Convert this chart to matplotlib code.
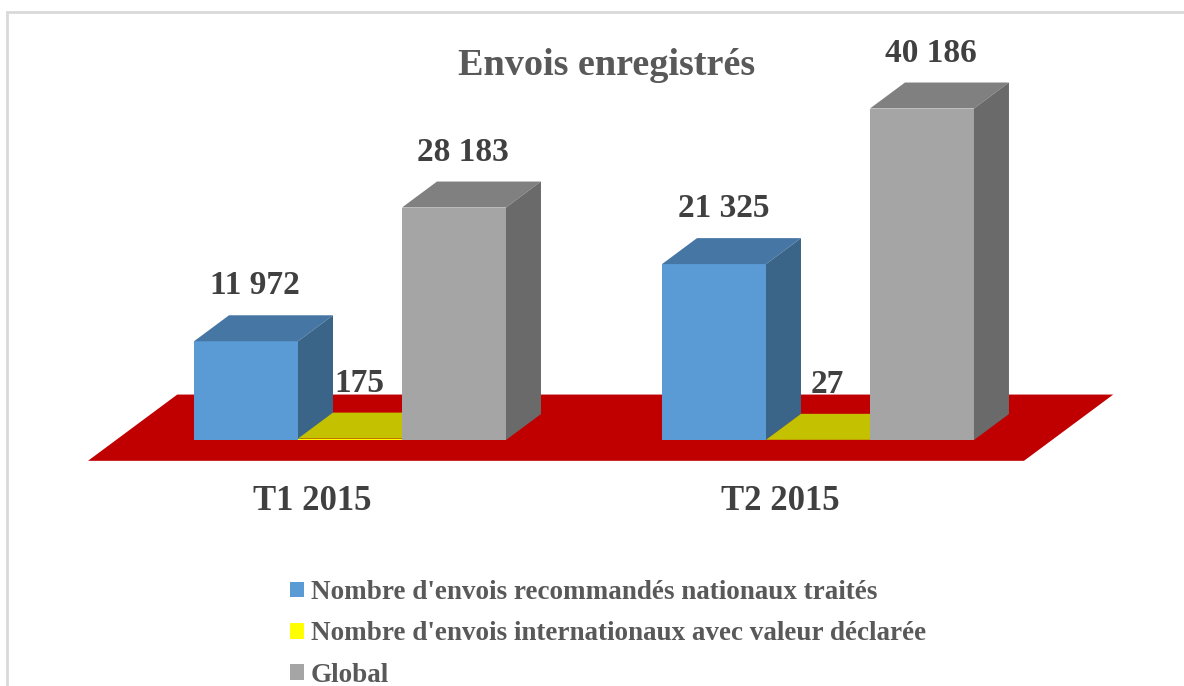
import matplotlib.pyplot as plt
from matplotlib.patches import Polygon, Rectangle
import numpy as np

plt.rcParams['font.family'] = ['Liberation Serif', 'DejaVu Serif']

#-----------------------------------------------------------------------------
# data
categories = ["T1 2015", "T2 2015"]
series = ["Nombre d'envois recommandés nationaux traités",
          "Nombre d'envois internationaux avec valeur déclarée",
          "Global"]
nationaux = [11972, 21325]
internationaux = [175, 27]
global_ = [28183, 40186]
value_labels = [["11 972", "21 325"], ["175", "27"], ["28 183", "40 186"]]

# front, top, side colours per series
colors = [("#5b9bd5", "#4677a4", "#3b6588"),
          ("#ffff00", "#c4c100", "#a0a000"),
          ("#a5a5a5", "#808080", "#6a6a6a")]
legend_colors = ["#5b9bd5", "#ffff00", "#a5a5a5"]

#-----------------------------------------------------------------------------
fig = plt.figure(figsize=(11.84, 6.86), dpi=100)
ax = fig.add_axes([0.03868, 0.2864, 0.9091, 0.6494])
ax.set_xlim(-0.65, 1.65)
ax.set_ylim(-6000, 48000)
ax.axis("off")

# depth offset of the 3d look (data units)
ddx, ddy = 0.0748, 3150
w = 0.2222
x = np.arange(len(categories))

# red floor
t0, t1 = -0.8, 1.75
floor = Polygon([(-0.5 + t0*ddx, t0*ddy), (1.5 + t0*ddx, t0*ddy),
                 (1.5 + t1*ddx, t1*ddy), (-0.5 + t1*ddx, t1*ddy)],
                closed=True, facecolor="#c00000", edgecolor="none", zorder=1)
ax.add_patch(floor)

data = [nationaux, internationaux, global_]
for i in range(len(categories)):
    for s, vals in enumerate(data):
        x0 = x[i] + (s - 1)*w - w/2
        x1 = x0 + w
        v = vals[i]
        front, top, side = colors[s]
        z = 2 + s
        ax.add_patch(Rectangle((x0, 0), w, v, facecolor=front,
                               edgecolor="none", zorder=z))
        ax.add_patch(Polygon([(x0, v), (x1, v), (x1 + ddx, v + ddy), (x0 + ddx, v + ddy)],
                             closed=True, facecolor=top, edgecolor="none", zorder=z))
        ax.add_patch(Polygon([(x1, 0), (x1 + ddx, ddy), (x1 + ddx, v + ddy), (x1, v)],
                             closed=True, facecolor=side, edgecolor="none", zorder=z))
        ax.annotate(value_labels[s][i], (x0 + w/2 + 0.02, v + ddy),
                    xytext=(0, 10), textcoords="offset points",
                    ha="center", va="bottom", fontsize=24, fontweight="bold",
                    color="#404040", zorder=10, annotation_clip=False)

# category labels
for i, c in enumerate(categories):
    ax.annotate(c, (x[i], 0), xytext=(-27, -44), textcoords="offset points",
                ha="center", va="center", fontsize=25, fontweight="bold",
                color="#404040", annotation_clip=False)

# title
fig.text(0.5127, 0.905, "Envois enregistrés", ha="center", va="center",
         fontsize=27.5, fontweight="bold", color="#595959")

# legend
handles = [Rectangle((0, 0), 1, 1, facecolor=c, edgecolor="none") for c in legend_colors]
leg = fig.legend(handles, series, loc="upper left", bbox_to_anchor=(0.236, 0.17),
                 frameon=False, ncol=1, handlelength=0.5, handleheight=0.5,
                 handletextpad=0.25, labelspacing=0.6, borderaxespad=0,
                 prop={"size": 19.5, "weight": "bold"})
for t in leg.get_texts():
    t.set_color("#595959")

# outer frame
fig.patches.append(Rectangle((0.006, -0.1), 1.2, 1.083, transform=fig.transFigure,
                             facecolor="none", edgecolor="#d9d9d9", lw=2))

fig.savefig("out.png", dpi=100)
